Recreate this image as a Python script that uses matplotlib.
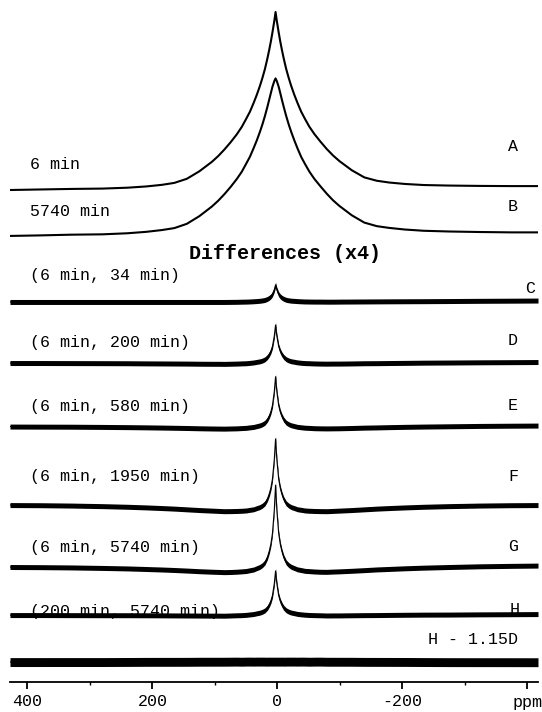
import matplotlib.pyplot as plt

# chemical shift grid (ppm) used by every trace
ppm = [428, 380, 330, 280, 240, 210, 185, 165, 145, 125, 105, 95, 85, 75, 65, 57, 50, 44,
       38, 33, 28, 24, 20, 16, 13, 10.5, 8, 5, 3, 1, -2, -4.5, -7, -10, -14, -18, -22, -27,
       -32, -38, -44, -51, -59, -69, -79, -89, -99, -119, -139, -159, -179, -204, -234,
       -274, -324, -374, -417]

# full spectra, intensity in % of the 6 min peak
spec_6min = [0, 0.3, 0.6, 0.8, 1.3, 2.0, 2.9, 4.0, 6.3, 10.5, 15.8, 19.0, 22.7, 26.8, 31.3,
             35.5, 40.0, 44.0, 49.0, 53.5, 58.5, 63.0, 68.0, 74.0, 79.0, 83.5, 88.5, 95.0,
             100,
             95.0, 88.5, 83.5, 79.0, 74.0, 68.0, 63.0, 58.5, 53.5, 49.0, 44.0, 40.0, 35.6,
             31.5, 27.1, 23.0, 19.4, 16.3, 11.1, 7.1, 5.2, 4.2, 3.4, 2.8, 2.5, 2.3, 2.2, 2.2]
spec_5740min = [0, 0.3, 0.7, 0.9, 1.5, 2.3, 3.3, 4.4, 6.8, 11.1, 16.5, 19.7, 23.4, 27.5, 32.0,
                36.1, 40.6, 44.5, 49.4, 53.7, 58.5, 62.7, 67.4, 72.6, 76.8, 80.3, 83.8, 87.0,
                88.5,
                87.0, 83.8, 80.3, 76.7, 72.6, 67.4, 62.7, 58.5, 53.7, 49.3, 44.4, 40.5, 36.2,
                32.1, 27.8, 23.7, 20.0, 16.9, 11.6, 7.5, 5.5, 4.5, 3.6, 2.9, 2.5, 2.2, 2.0, 2.0]

# difference spectra, same units (drawn x4)
diff_c = [0, 0, 0, 0, 0, 0, 0, 0, 0, 0, 0, 0, 0, 0.01, 0.02, 0.04, 0.05, 0.07, 0.1, 0.13,
          0.17, 0.22, 0.29, 0.43, 0.6, 0.79, 1.08, 1.73,
          2.4,
          1.73, 1.08, 0.79, 0.6, 0.44, 0.3, 0.23, 0.18, 0.15, 0.12, 0.09, 0.07, 0.06, 0.05,
          0.05, 0.04, 0.04, 0.05, 0.06, 0.07, 0.08, 0.09, 0.1, 0.11, 0.13, 0.16, 0.18, 0.2]
diff_d = [0, 0, -0.01, -0.02, -0.03, -0.05, -0.06, -0.07, -0.08, -0.1, -0.11, -0.11, -0.12,
          -0.1, -0.08, -0.05, -0.03, 0.02, 0.08, 0.16, 0.24, 0.35, 0.52, 0.85, 1.23, 1.67,
          2.33, 3.81,
          5.34,
          3.81, 2.33, 1.67, 1.23, 0.85, 0.53, 0.36, 0.25, 0.17, 0.09, 0.03, -0.01, -0.03,
          -0.06, -0.08, -0.09, -0.08, -0.08, -0.06, -0.03, -0.02, 0.0, 0.02, 0.05, 0.07, 0.1,
          0.12, 0.14]
diff_e = [0, -0.01, -0.02, -0.05, -0.08, -0.11, -0.14, -0.17, -0.2, -0.24, -0.27, -0.28,
          -0.29, -0.27, -0.25, -0.21, -0.18, -0.11, -0.05, 0.06, 0.17, 0.32, 0.54, 0.98, 1.5,
          2.08, 2.96, 4.94,
          7.0,
          4.94, 2.96, 2.08, 1.5, 0.98, 0.55, 0.33, 0.18, 0.07, -0.04, -0.1, -0.16, -0.19,
          -0.23, -0.25, -0.26, -0.25, -0.24, -0.2, -0.15, -0.12, -0.08, -0.04, 0.0, 0.04,
          0.09, 0.12, 0.14]
diff_f = [0, -0.02, -0.07, -0.15, -0.24, -0.33, -0.42, -0.5, -0.6, -0.7, -0.78, -0.82, -0.86,
          -0.85, -0.83, -0.8, -0.76, -0.67, -0.59, -0.43, -0.28, -0.07, 0.24, 0.85, 1.58, 2.4,
          3.64, 6.42,
          9.3,
          6.42, 3.64, 2.4, 1.58, 0.85, 0.24, -0.07, -0.28, -0.43, -0.59, -0.67, -0.76, -0.8,
          -0.83, -0.85, -0.86, -0.82, -0.78, -0.7, -0.6, -0.5, -0.42, -0.33, -0.24, -0.15,
          -0.07, -0.02, 0]
diff_g = [0, -0.02, -0.06, -0.13, -0.2, -0.28, -0.35, -0.42, -0.5, -0.59, -0.66, -0.69, -0.72,
          -0.7, -0.66, -0.61, -0.56, -0.45, -0.35, -0.16, 0.02, 0.27, 0.64, 1.38, 2.25, 3.23,
          4.71, 8.04,
          11.5,
          8.04, 4.71, 3.23, 2.26, 1.39, 0.65, 0.28, 0.03, -0.15, -0.33, -0.43, -0.54, -0.58,
          -0.63, -0.67, -0.68, -0.64, -0.61, -0.53, -0.44, -0.34, -0.27, -0.18, -0.09, 0.0,
          0.1, 0.16, 0.2]
diff_h = [0, 0, -0.01, -0.02, -0.02, -0.03, -0.04, -0.05, -0.06, -0.07, -0.08, -0.08, -0.09,
          -0.06, -0.03, -0.01, 0.03, 0.09, 0.15, 0.25, 0.34, 0.47, 0.66, 1.03, 1.48, 1.98,
          2.74, 4.44,
          6.2,
          4.44, 2.74, 1.98, 1.48, 1.03, 0.67, 0.48, 0.35, 0.26, 0.16, 0.1, 0.05, 0.01, -0.01,
          -0.03, -0.06, -0.05, -0.05, -0.03, -0.01, 0.0, 0.02, 0.04, 0.06, 0.07, 0.1, 0.12,
          0.14]
# residual H - 1.15 D
diff_res = [h - 1.15 * d for h, d in zip(diff_h, diff_d)]

spectra = [spec_6min, spec_5740min]
spectra_labels = ["6 min", "5740 min"]
diffs = [diff_c, diff_d, diff_e, diff_f, diff_g, diff_h, diff_res]
diff_labels = ["(6 min, 34 min)", "(6 min, 200 min)", "(6 min, 580 min)",
               "(6 min, 1950 min)", "(6 min, 5740 min)", "(200 min, 5740 min)"]
letters = ["A", "B", "C", "D", "E", "F", "G", "H", "H - 1.15D"]

tick_pos = [400, 200, 0, -200, -400]
tick_text = ["400", "200", "0", "-200", "ppm"]

# layout (vertical units = % of 6 min peak, 1.78 px each)
px = 1.78
spec_offsets = [276.4, 250.6]
diff_offsets = [213.5, 179.2, 143.5, 99.4, 64.6, 37.6, 11.2]
label_y = [291.0, 264.6, 228.3, 191.0, 154.7, 115.3, 75.3, 39.5]
letter_y = [300.6, 266.9, 220.8, 191.6, 155.6, 115.7, 76.4, 41.0, 23.6]
letter_x = [-385, -385, -413, -385, -385, -385, -385, -387, -385]
band = [1.4, 1.4, 1.4, 1.4, 1.4, 1.4, 2.5]

plt.rcParams['font.family'] = ['Liberation Mono', 'DejaVu Sans Mono']

fig = plt.figure(figsize=(5.42, 7.12), dpi=100)
ax = fig.add_axes([10 / 542, 30 / 712, 528 / 542, 682 / 712])
ax.set_xlim(428, -417)
ax.set_ylim(0, 682 / px)

for spec, off in zip(spectra, spec_offsets):
    ax.plot(ppm, [off + v for v in spec], color='black', linewidth=1.5)

for d, off, b in zip(diffs, diff_offsets, band):
    y = [off + 4 * v for v in d]
    ax.fill_between(ppm, [v - b for v in y], [v + b for v in y], color='black', linewidth=0)
    ax.plot(ppm, y, color='black', linewidth=0.8)

for text, yy in zip(spectra_labels + diff_labels, label_y):
    ax.text(396, yy, text, fontsize=12, ha='left', va='center')
for text, xx, yy in zip(letters, letter_x, letter_y):
    ax.text(xx, yy, text, fontsize=12, ha='right', va='center')

ax.text(-12, 241.0, "Differences (x4)", fontsize=14.4, fontweight='bold',
        ha='center', va='center')

for side in ['left', 'top', 'right']:
    ax.spines[side].set_visible(False)
ax.spines['bottom'].set_linewidth(1.3)
ax.set_yticks([])
ax.set_xticks(tick_pos)
ax.set_xticklabels(tick_text)
ax.set_xticks([300, 100, -100, -300], minor=True)
ax.tick_params(axis='x', which='major', length=5, width=1.3, labelsize=12, pad=4)
ax.tick_params(axis='x', which='minor', length=2.5, width=1.0)

fig.savefig('out.png', dpi=100)
